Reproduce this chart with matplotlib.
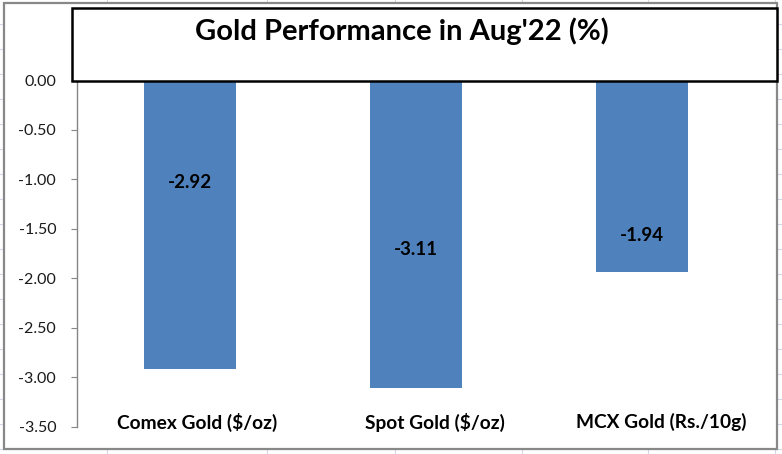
import numpy as np
import matplotlib
matplotlib.use('Agg')
import matplotlib.pyplot as plt
from matplotlib.patches import Rectangle
from matplotlib.lines import Line2D

# Data
categories = [r'Comex Gold (\$/oz)', r'Spot Gold (\$/oz)', r'MCX Gold (Rs./10g)']
values = [-2.92, -3.11, -1.94]
value_labels = ['-2.92', '-3.11', '-1.94']
label_y = [-1.03, -1.71, -1.57]   # where Excel put the data labels
yticks = [0.0, -0.5, -1.0, -1.5, -2.0, -2.5, -3.0, -3.5]
title = "Gold Performance in Aug'22 (%)"

W, H = 782, 454
plt.rcParams['font.family'] = ['Lato', 'DejaVu Sans']

fig = plt.figure(figsize=(W / 100, H / 100), dpi=100)


def fx(px):
    return px / W


def fy(py):
    return 1 - py / H


# Excel sheet gridlines behind the chart
grid_col = '#d0d7e5'
for x in [107, 267, 395, 522, 648, 775]:
    fig.add_artist(Line2D([fx(x), fx(x)], [0, 1], color=grid_col, lw=0.8, zorder=0))
for y in np.arange(24, H, 25):
    fig.add_artist(Line2D([0, 1], [fy(y), fy(y)], color=grid_col, lw=0.8, zorder=0))

# chart area
fig.add_artist(Rectangle((fx(4), fy(449)), fx(777) - fx(4), fy(3) - fy(449),
                         transform=fig.transFigure, facecolor='white',
                         edgecolor='#888888', lw=1.6, zorder=1))

ax = fig.add_axes([fx(77), fy(427), fx(755) - fx(77), fy(80) - fy(427)], zorder=2)
ax.patch.set_alpha(0)

x = np.arange(len(categories))
ax.bar(x, values, width=0.407, color='#4f81bd', zorder=2)
for xi, yl, txt in zip(x, label_y, value_labels):
    ax.text(xi, yl, txt, ha='center', va='center', fontsize=13.5,
            fontweight='bold', color='black')
# the category labels sit a little right of the bars in the original
for xi, cat, dx in zip(x, categories, [0.03, 0.085, 0.085]):
    ax.text(xi + dx, -3.45, cat, ha='center', va='center', fontsize=13.8,
            fontweight='bold', color='black')

ax.set_xlim(-0.5, 2.5)
ax.set_ylim(-3.5, 0)
ax.set_yticks(yticks)
ax.set_yticklabels(['%.2f' % v for v in yticks])
ax.set_xticks([])
ax.tick_params(axis='y', direction='out', length=4.5, color='#868686',
               labelsize=11.5, labelcolor='#1a1a1a', pad=10.5)
for s in ['top', 'right', 'bottom']:
    ax.spines[s].set_visible(False)
ax.spines['left'].set_color('#868686')
ax.spines['left'].set_linewidth(1.0)

# title box
fig.add_artist(Rectangle((fx(72), fy(81)), fx(777) - fx(72), fy(8) - fy(81),
                         transform=fig.transFigure, facecolor='white',
                         edgecolor='black', lw=1.8, zorder=3))
fig.text(fx(402), fy(31), title, ha='center', va='center', fontsize=21,
         fontweight='bold', color='black', zorder=4)

fig.savefig('out.png', dpi=100)
